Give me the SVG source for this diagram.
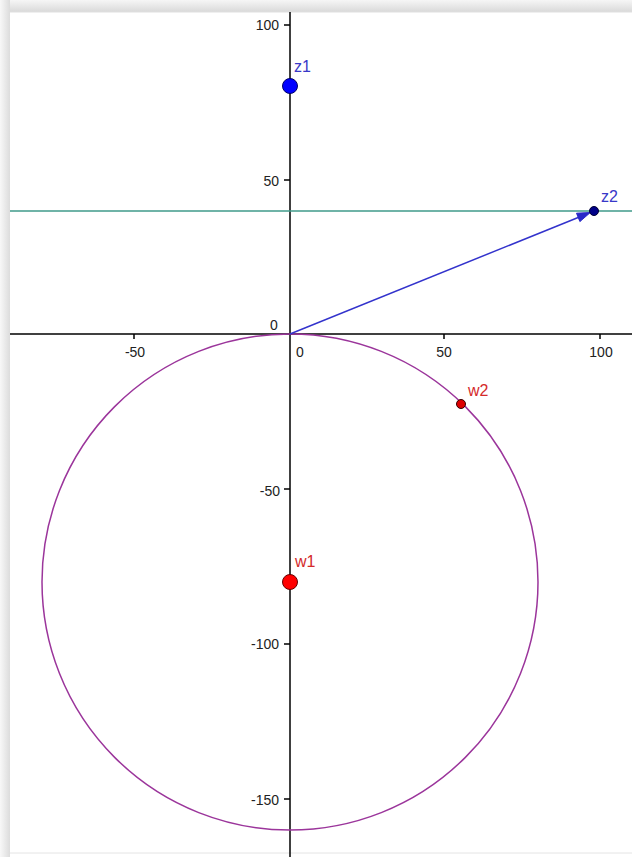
<svg xmlns="http://www.w3.org/2000/svg" width="632" height="857" viewBox="0 0 632 857">
<style>
.tick{font-family:"Liberation Sans",Arial,sans-serif;font-size:14px;fill:#222}
.lbl{font-family:"Liberation Sans",Arial,sans-serif;font-size:16px}
.ax{stroke:#000;stroke-width:1.5;fill:none}
</style>
<defs>
<linearGradient id="gt" x1="0" y1="0" x2="0" y2="1"><stop offset="0" stop-color="#f6f6f6"/><stop offset="1" stop-color="#d9d9d9"/></linearGradient>
<linearGradient id="gl" x1="0" y1="0" x2="1" y2="0"><stop offset="0" stop-color="#f8f8f8"/><stop offset="1" stop-color="#dcdcdc"/></linearGradient>
</defs>
<rect x="0" y="0" width="632" height="857" fill="#ffffff"/>
<rect x="0" y="0" width="632" height="12" fill="url(#gt)"/>
<rect x="0" y="0" width="10" height="857" fill="url(#gl)"/>
<rect x="10" y="12" width="622" height="841" fill="#ffffff"/>
<line x1="10" y1="853" x2="632" y2="853" stroke="#e4e4e4" stroke-width="1"/>
<line x1="10" y1="12" x2="632" y2="12" stroke="#e0e0e0" stroke-width="1"/>

<g id="axes">
<line class="ax" x1="10" y1="334" x2="632" y2="334"/>
<line class="ax" x1="290" y1="12" x2="290" y2="857"/>
<path class="ax" d="M134 334V339M444 334V339M600 334V339M284 25H290M284 180H290M284 489H290M284 644H290M284 799H290"/>
<text class="tick" x="135" y="357" text-anchor="middle">-50</text>
<text class="tick" x="300" y="357" text-anchor="middle">0</text>
<text class="tick" x="444" y="357" text-anchor="middle">50</text>
<text class="tick" x="601" y="357" text-anchor="middle">100</text>
<text class="tick" x="274" y="330" text-anchor="middle">0</text>
<text class="tick" x="279" y="30" text-anchor="end">100</text>
<text class="tick" x="279" y="186" text-anchor="end">50</text>
<text class="tick" x="280" y="496" text-anchor="end">-50</text>
<text class="tick" x="279" y="649" text-anchor="end">-100</text>
<text class="tick" x="279" y="805" text-anchor="end">-150</text>
</g>

<g id="line-im40">
<line x1="10" y1="211" x2="632" y2="211" stroke="#3f9a8a" stroke-width="1.5"/>
</g>

<g id="circle">
<circle cx="290" cy="582" r="248" fill="none" stroke="#9b359b" stroke-width="1.5"/>
</g>

<g id="connectors">
<line x1="290" y1="334" x2="580" y2="216.7" stroke="#3333cc" stroke-width="1.5"/>
<polygon points="590.3,212.5 579.9,221.6 578.2,217.4 576.5,213.2" fill="#2828c8" stroke="#2828c8" stroke-width="1"/>
</g>

<g id="z1">
<circle cx="290" cy="86" r="7.5" fill="#0000ff" stroke="#000066" stroke-width="1"/>
<text class="lbl" x="294" y="72" fill="#3838c8">z1</text>
</g>
<g id="z2">
<circle cx="594" cy="211" r="4.5" fill="#000088" stroke="#000033" stroke-width="1"/>
<text class="lbl" x="601" y="202" fill="#3838c8">z2</text>
</g>
<g id="w1">
<circle cx="290" cy="582" r="7.5" fill="#ff0000" stroke="#660000" stroke-width="1"/>
<text class="lbl" x="295" y="567" fill="#d42a2a">w1</text>
</g>
<g id="w2">
<circle cx="461" cy="404" r="4.5" fill="#dd0000" stroke="#330000" stroke-width="1"/>
<text class="lbl" x="468" y="396" fill="#d42a2a">w2</text>
</g>
</svg>
